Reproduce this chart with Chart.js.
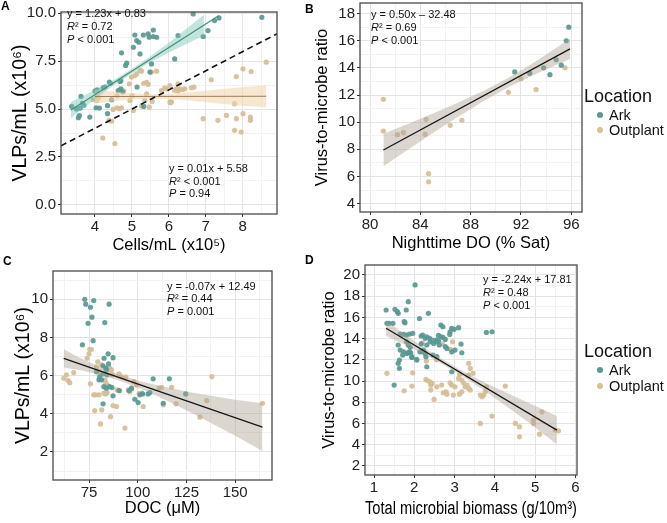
<!DOCTYPE html>
<html>
<head>
<meta charset="utf-8">
<script src="https://cdn.jsdelivr.net/npm/chart.js@4.4.1/dist/chart.umd.min.js"></script>
<style>
  body { margin: 0; background: #fff; font-family: "Liberation Sans", Arial, sans-serif; }
  #page { position: relative; width: 667px; height: 523px; overflow: hidden; }
  .pane { position: absolute; }
  .tag { position: absolute; font-weight: bold; font-size: 12px; line-height: 12px; color: #000; }
  .eq { position: absolute; font-size: 11px; line-height: 13px; color: #111; white-space: nowrap; }
  .lgt { position: absolute; font-size: 18px; line-height: 20px; color: #111; }
  .lgi { position: absolute; font-size: 14.5px; line-height: 16px; color: #111; }
  .dot { position: absolute; width: 6px; height: 6px; border-radius: 50%; }
</style>
</head>
<body>
<div id="page">
  <div class="pane" style="left:0;top:0"><canvas id="cA" width="300" height="258"></canvas></div>
  <div class="pane" style="left:300px;top:0"><canvas id="cB" width="367" height="258"></canvas></div>
  <div class="pane" style="left:0;top:258px"><canvas id="cC" width="300" height="265"></canvas></div>
  <div class="pane" style="left:300px;top:258px"><canvas id="cD" width="367" height="265"></canvas></div>

  <div class="tag" style="left:1px;top:0px">A</div>
  <div class="tag" style="left:305px;top:3px">B</div>
  <div class="tag" style="left:3px;top:255px">C</div>
  <div class="tag" style="left:305px;top:254px">D</div>

  <div class="eq" style="left:67px;top:7px">y = 1.23x + 0.83<br><i>R</i>² = 0.72<br><i>P</i> &lt; 0.001</div>
  <div class="eq" style="left:169px;top:162px;line-height:12.7px">y = 0.01x + 5.58<br><i>R</i>² &lt; 0.001<br><i>P</i> = 0.94</div>
  <div class="eq" style="left:371px;top:7.5px">y = 0.50x – 32.48<br><i>R</i>² = 0.69<br><i>P</i> &lt; 0.001</div>
  <div class="eq" style="left:167px;top:279.5px;line-height:12.8px">y = -0.07x + 12.49<br><i>R</i>² = 0.44<br><i>P</i> = 0.001</div>
  <div class="eq" style="left:483px;top:273px">y = -2.24x + 17.81<br><i>R</i>² = 0.48<br><i>P</i> &lt; 0.001</div>

  <div class="lgt" style="left:584px;top:86px">Location</div>
  <div class="dot" style="left:597px;top:112px;background:rgb(88,152,146)"></div>
  <div class="lgi" style="left:609px;top:107px">Ark</div>
  <div class="dot" style="left:597px;top:127px;background:rgb(214,189,150)"></div>
  <div class="lgi" style="left:609px;top:122px">Outplant</div>

  <div class="lgt" style="left:584px;top:341px">Location</div>
  <div class="dot" style="left:597px;top:367px;background:rgb(88,152,146)"></div>
  <div class="lgi" style="left:609px;top:362px">Ark</div>
  <div class="dot" style="left:597px;top:383px;background:rgb(214,189,150)"></div>
  <div class="lgi" style="left:609px;top:378px">Outplant</div>
</div>

<script>
// ---- Panel A : VLPs vs cells ----
const aArkX = [3.37,3.5,3.55,3.58,3.6,3.62,3.66,3.7,3.86,4.0,4.03,4.06,4.12,4.22,4.27,4.34,4.34,4.39,4.42,4.45,4.63,4.68,4.7,4.7,4.72,4.75,4.83,4.86,5.04,5.08,5.13,5.14,5.19,5.22,5.31,5.32,5.44,5.47,5.49,5.53,5.58,5.58,5.67,6.16,6.25,6.66,6.93,7.06,7.24,7.36,8.52];
const aArkY = [5.14,5.0,4.55,4.66,5.05,5.66,5.3,5.2,4.58,5.94,5.07,6.01,5.05,6.11,6.15,4.76,5.18,6.41,6.35,5.49,5.97,6.44,6.49,6.06,7.94,5.9,7.28,7.4,8.23,8.87,8.58,6.15,8.49,7.88,8.87,5.14,8.93,8.75,6.93,7.36,8.79,9.13,8.75,7.62,8.84,9.97,8.79,9.1,9.62,9.76,9.79];
const aOutX = [3.95,4.05,4.1,4.21,4.38,4.45,4.49,4.54,4.59,4.6,4.66,4.72,4.78,4.93,4.95,4.99,5.0,5.04,5.08,5.13,5.22,5.26,5.26,5.32,5.35,5.4,5.4,5.44,5.47,5.53,5.55,5.67,5.8,5.89,5.95,6.03,6.03,6.05,6.07,6.16,6.2,6.25,6.25,6.3,6.37,6.43,6.61,6.68,6.93,7.15,7.33,7.56,7.78,7.78,7.83,7.83,7.96,8.01,8.01,8.21,8.21,8.23,8.64];
const aOutY = [5.5,5.45,5.6,3.49,4.41,4.37,4.98,3.2,5.07,5.7,5.02,5.07,5.95,6.32,5.45,6.67,5.7,4.93,6.75,6.84,7.02,6.98,5.16,6.35,5.45,5.8,6.4,6.29,5.1,6.93,5.4,6.98,5.97,6.11,6.06,5.36,6.23,5.33,5.38,5.97,6.06,5.94,6.32,6.06,6.01,6.06,6.11,6.15,4.5,6.53,4.41,4.67,5.28,3.89,6.7,4.5,3.8,7.1,4.76,4.58,4.41,6.96,7.45];
const aArkFitX = [3.35, 7.35];
const aArkFitY = [4.95, 9.87];
const aArkBandX = [3.35, 4.0, 4.5, 5.0, 5.5, 6.0, 6.5, 6.95];
const aArkBandHi = [5.37, 5.99, 6.51, 7.10, 7.76, 8.47, 9.23, 9.93];
const aArkBandLo = [4.53, 5.51, 6.23, 6.86, 7.44, 7.95, 8.43, 8.83];
const aOutFitX = [4.0, 8.64];
const aOutFitY = [5.66, 5.67];
const aOutBandX = [4.0, 4.5, 5.0, 5.5, 6.0, 6.5, 7.0, 7.5, 8.0, 8.64];
const aOutBandHi = [6.04, 5.91, 5.82, 5.78, 5.79, 5.86, 5.96, 6.06, 6.14, 6.24];
const aOutBandLo = [5.28, 5.41, 5.5, 5.54, 5.53, 5.46, 5.36, 5.26, 5.18, 5.08];
const aRefX = [3.08, 8.93];
const aRefY = [3.08, 8.93];
const aXMajor = [4, 5, 6, 7, 8], aXMinor = [3.5, 4.5, 5.5, 6.5, 7.5, 8.5];
const aYMajor = [0, 2.5, 5, 7.5, 10], aYMinor = [1.25, 3.75, 6.25, 8.75];

// ---- Panel B : VMR vs nighttime DO ----
const bOutX = [81.06,81.06,82.18,82.65,84.38,84.46,84.65,84.65,86.37,87.3,91.0,92.0,93.2,95.5];
const bOutY = [11.68,9.35,9.08,9.23,9.1,10.21,6.21,5.6,9.77,10.14,12.2,13.2,12.4,14.0];
const bArkX = [91.5,92.7,93.8,94.3,94.8,95.2,95.6,95.8];
const bArkY = [13.7,13.6,14.0,13.5,14.6,14.2,16.0,17.0];
const bFitX = [81.06, 95.9];
const bFitY = [7.95, 15.4];
const bBandX = [81.06, 83, 85, 87, 89, 91, 93, 95.9];
const bBandHi = [9.15, 9.87, 10.64, 11.44, 12.3, 13.27, 14.37, 16.15];
const bBandLo = [6.75, 7.97, 9.2, 10.4, 11.54, 12.57, 13.47, 14.65];
const bXMajor = [80, 84, 88, 92, 96], bXMinor = [82, 86, 90, 94];
const bYMajor = [4, 6, 8, 10, 12, 14, 16, 18], bYMinor = [5, 7, 9, 11, 13, 15, 17];

// ---- Panel C : VLPs vs DOC ----
const cArkX = [71.6,72.8,73.3,74.5,75.7,76.5,77.1,77.4,78.8,80.1,80.5,81.4,82.2,82.2,82.2,82.6,82.7,83.1,83.6,83.9,83.9,84.3,84.8,85.0,85.3,85.6,86.8,87.3,87.3,90.4,95.6,96.8,98.5,100.2,101.1,102.5,105.3,106.2,107.9,113.1,116.2,124.6];
const cArkY = [7.61,10.0,9.74,8.74,9.58,9.06,7.83,9.93,6.2,5.78,5.95,5.78,6.51,6.09,4.52,5.42,6.91,8.78,6.39,6.3,5.34,6.04,7.14,6.61,9.74,5.42,5.37,6.94,4.94,5.22,5.22,5.34,4.76,4.59,4.99,5.04,5.04,5.11,5.83,4.55,5.83,5.04];
const cOutX = [62.0,63.4,64.2,65.1,67.1,74.0,75.0,75.4,75.7,76.2,77.4,77.9,78.4,78.8,79.5,80.1,80.5,80.9,81.4,81.5,82.6,83.1,83.6,83.6,84.3,84.3,85.6,86.0,86.5,87.0,87.3,89.1,89.4,90.4,90.8,91.7,93.4,93.9,95.1,95.9,96.8,98.0,99.4,100.7,102.0,102.8,111.0,112.2,113.1,117.4,119.6,131.9,135.4,138.0,164.0];
const cOutY = [5.86,6.04,5.74,5.63,6.16,6.91,7.14,7.38,5.57,7.38,4.99,4.17,4.99,6.46,6.72,4.99,6.21,3.47,6.56,4.2,5.08,5.78,5.04,5.62,5.11,5.51,6.39,3.85,6.3,6.04,4.43,4.38,5.25,6.09,5.2,5.95,3.25,5.92,5.25,5.16,5.29,5.69,5.51,5.07,5.08,4.38,5.34,5.39,4.47,5.39,4.52,3.82,4.69,5.95,4.55];
const cFitX = [62, 164];
const cFitY = [6.9, 3.3];
const cBandX = [62, 70, 80, 90, 100, 110, 120, 130, 140, 150, 164];
const cBandHi = [7.38, 6.95, 6.46, 6.06, 5.74, 5.49, 5.27, 5.08, 4.91, 4.73, 4.55];
const cBandLo = [6.42, 6.29, 6.06, 5.76, 5.38, 4.93, 4.43, 3.92, 3.39, 2.85, 2.05];
const cXMajor = [75, 100, 125, 150], cXMinor = [62.5, 87.5, 112.5, 137.5, 162.5];
const cYMajor = [2, 4, 6, 8, 10], cYMinor = [1, 3, 5, 7, 9, 11];

// ---- Panel D : VMR vs total microbial biomass ----
const dArkX = [1.30,1.32,1.37,1.47,1.5,1.52,1.58,1.6,1.6,1.6,1.63,1.63,1.65,1.65,1.71,1.73,1.73,1.75,1.77,1.8,1.8,1.81,1.81,1.85,1.85,1.85,1.88,1.88,1.9,1.91,1.94,1.94,1.96,2.02,2.06,2.06,2.13,2.14,2.17,2.17,2.19,2.21,2.23,2.23,2.27,2.27,2.29,2.31,2.31,2.31,2.35,2.38,2.39,2.44,2.46,2.48,2.54,2.56,2.56,2.6,2.6,2.62,2.66,2.66,2.71,2.71,2.77,2.77,2.81,2.88,2.89,2.93,2.93,2.93,2.99,3.01,3.1,3.16,3.18,3.79,3.93];
const dArkY = [16.7,15.44,15.44,15.44,9.62,16.76,16.54,16.39,13.4,11.67,11.98,11.2,14.43,12.92,12.45,14.4,12.76,15.6,15.5,16.7,14.34,12.61,13.7,17.48,13.4,12.67,12.76,14.43,13.18,12.67,12.23,12.3,14.5,19.06,11.98,12.05,15.9,12.76,14.25,13.5,12.76,14.34,12.92,12.8,12.61,14.03,12.3,14.18,13.4,11.35,16.39,14.03,13.7,13.87,12.45,13.55,13.87,13.7,12.3,13.8,14.3,13.4,15.28,14.18,15.12,14.12,13.93,13.24,13.08,14.4,14.65,14.97,12.76,10.88,14.88,12.92,15.03,13.49,12.67,14.59,14.65];
const dOutX = [1.32,1.75,1.94,1.96,2.2,2.29,2.3,2.33,2.39,2.41,2.41,2.44,2.49,2.55,2.56,2.68,2.7,2.72,2.79,2.81,2.89,2.9,2.93,2.95,2.97,3.01,3.1,3.12,3.12,3.18,3.18,3.22,3.26,3.31,3.35,3.35,3.35,3.39,3.39,3.46,3.64,3.64,3.68,3.72,3.76,3.79,3.93,4.26,4.51,4.61,4.61,4.96,4.96,5.11,5.17,5.5,5.58];
const dOutY = [10.73,9.09,9.53,10.78,13.6,10.16,11.9,10.03,9.94,9.62,9.15,9.79,8.27,12.0,9.46,9.62,13.5,8.9,8.99,8.75,9.84,13.0,9.62,13.7,8.68,9.46,10.25,8.77,10.57,8.99,10.1,9.84,9.46,9.62,9.31,11.67,10.57,9.15,11.2,10.73,8.68,6.01,8.52,8.68,8.99,9.46,6.7,9.53,6.01,5.69,4.75,6.32,6.01,5.0,7.1,5.38,5.31];
const dFitX = [1.3, 5.54];
const dFitY = [14.97, 5.38];
const dBandX = [1.3, 1.75, 2.25, 2.75, 3.25, 3.75, 4.25, 4.75, 5.54];
const dBandHi = [15.69, 14.43, 13.13, 11.93, 10.84, 9.87, 8.97, 8.11, 6.72];
const dBandLo = [14.25, 13.47, 12.53, 11.49, 10.34, 9.07, 7.73, 6.35, 4.04];
const dXMajor = [1, 2, 3, 4, 5, 6], dXMinor = [1.5, 2.5, 3.5, 4.5, 5.5];
const dYMajor = [2, 4, 6, 8, 10, 12, 14, 16, 18, 20], dYMinor = [3, 5, 7, 9, 11, 13, 15, 17, 19];

const FONT = '"Liberation Sans", Arial, sans-serif';
const ARK = 'rgba(88,152,146,0.92)';
const OUT = 'rgba(214,189,150,0.92)';
const ARK_LINE = '#3f8b7d', OUT_LINE = '#9e7d55', FIT_LINE = '#151515';
const ARK_BAND = 'rgba(120,198,178,0.45)', OUT_BAND = 'rgba(240,212,172,0.55)', GREY_BAND = 'rgba(172,158,144,0.42)';

function xy(xs, ys) { return xs.map((x, i) => ({ x: x, y: ys[i] })); }

function dots(xs, ys, color) {
  return { type: 'scatter', data: xy(xs, ys), backgroundColor: color, borderWidth: 0, pointRadius: 2.6, pointHoverRadius: 2.6 };
}
function line(xs, ys, color, width, dash) {
  return { type: 'line', data: xy(xs, ys), borderColor: color, borderWidth: width, borderDash: dash || [], pointRadius: 0, fill: false, tension: 0 };
}
// upper edge filled down to the lower edge that follows it
function band(xs, hi, lo, color) {
  return [
    { type: 'line', data: xy(xs, hi), borderColor: 'transparent', borderWidth: 0, pointRadius: 0, backgroundColor: color, fill: '+1', tension: 0 },
    { type: 'line', data: xy(xs, lo), borderColor: 'transparent', borderWidth: 0, pointRadius: 0, fill: false, tension: 0 }
  ];
}

function scale(o) {
  const all = o.major.concat(o.minor);
  const isMajor = c => c.tick && o.major.includes(c.tick.value);
  return {
    type: 'linear', min: o.min, max: o.max, bounds: 'data',
    afterBuildTicks: s => { s.ticks = all.map(v => ({ value: v })); },
    afterFit: s => {
      if (o.horiz) s.height = o.size; else s.width = o.size;
      s.paddingTop = 0; s.paddingBottom = 0; s.paddingLeft = 0; s.paddingRight = 0;
    },
    ticks: {
      autoSkip: false, maxRotation: 0, padding: o.horiz ? 1 : 2, color: '#222',
      font: { family: FONT, size: 15 },
      callback: v => o.major.includes(v) ? (o.fmt ? o.fmt(v) : String(v)) : ''
    },
    grid: {
      color: c => isMajor(c) ? '#e4e4e4' : '#f2f2f2', lineWidth: 1,
      tickLength: 3, tickWidth: 1,
      tickColor: c => isMajor(c) ? '#333' : 'rgba(0,0,0,0)'
    },
    border: { display: false },
    title: {
      display: true, text: o.title, color: '#000',
      font: { family: FONT, size: o.tsize || 16.5 },
      padding: o.horiz ? { top: 0, bottom: o.tpad } : { top: o.tpad, bottom: 0 }
    }
  };
}

const frame = {
  id: 'frame',
  afterDraw(chart) {
    const { ctx, chartArea: a } = chart;
    ctx.save();
    ctx.strokeStyle = '#4a4a4a';
    ctx.lineWidth = 1.3;
    ctx.strokeRect(a.left, a.top, a.right - a.left, a.bottom - a.top);
    ctx.restore();
  }
};

function panel(id, datasets, x, y, pad) {
  return new Chart(document.getElementById(id), {
    type: 'scatter',
    data: { datasets: datasets },
    options: {
      responsive: false, animation: false, events: [],
      layout: { padding: pad },
      plugins: { legend: { display: false }, tooltip: { enabled: false } },
      scales: { x: x, y: y }
    },
    plugins: [frame]
  });
}

panel('cA', [
  line(aRefX, aRefY, '#111', 1.6, [6, 4]),
  line(aArkFitX, aArkFitY, ARK_LINE, 1.1),
  line(aOutFitX, aOutFitY, OUT_LINE, 1.1),
  ...band(aArkBandX, aArkBandHi, aArkBandLo, ARK_BAND),
  ...band(aOutBandX, aOutBandHi, aOutBandLo, OUT_BAND),
  dots(aArkX, aArkY, ARK),
  dots(aOutX, aOutY, OUT)
],
  scale({ horiz: true, min: 3.08, max: 8.93, major: aXMajor, minor: aXMinor, title: 'Cells/mL (x10⁵)', size: 44, tpad: 3 }),
  scale({ min: -0.48, max: 10.07, major: aYMajor, minor: aYMinor, fmt: v => v.toFixed(1), title: 'VLPs/mL (x10⁶)', tsize: 19.5, size: 61, tpad: 9 }),
  { left: 0, top: 12, right: 23, bottom: 0 });

panel('cB', [
  line(bFitX, bFitY, FIT_LINE, 1.2),
  ...band(bBandX, bBandHi, bBandLo, GREY_BAND),
  dots(bArkX, bArkY, ARK),
  dots(bOutX, bOutY, OUT)
],
  scale({ horiz: true, min: 79.2, max: 96.85, major: bXMajor, minor: bXMinor, title: 'Nighttime DO (% Sat)', size: 46, tpad: 5 }),
  scale({ min: 3.38, max: 18.78, major: bYMajor, minor: bYMinor, title: 'Virus-to-microbe ratio', size: 60, tpad: 12.5 }),
  { left: 0, top: 3, right: 85, bottom: 0 });

panel('cC', [
  line(cFitX, cFitY, FIT_LINE, 1.2),
  ...band(cBandX, cBandHi, cBandLo, GREY_BAND),
  dots(cArkX, cArkY, ARK),
  dots(cOutX, cOutY, OUT)
],
  scale({ horiz: true, min: 56.5, max: 168.9, major: cXMajor, minor: cXMinor, title: 'DOC (μM)', size: 43, tpad: 5 }),
  scale({ min: 0.53, max: 11.48, major: cYMajor, minor: cYMinor, title: 'VLPs/mL (x10⁶)', tsize: 19.5, size: 53, tpad: 12 }),
  { left: 0, top: 13, right: 28, bottom: 0 });

panel('cD', [
  line(dFitX, dFitY, FIT_LINE, 1.2),
  ...band(dBandX, dBandHi, dBandLo, GREY_BAND),
  dots(dArkX, dArkY, ARK),
  dots(dOutX, dOutY, OUT)
],
  scale({ horiz: true, min: 0.776, max: 6.04, major: dXMajor, minor: dXMinor, title: 'Total microbial biomass (g/10m³)', tsize: 18, size: 48, tpad: 3 }),
  scale({ min: 1.15, max: 20.94, major: dYMajor, minor: dYMinor, title: 'Virus-to-microbe ratio', size: 65, tpad: 20 }),
  { left: 0, top: 7, right: 90, bottom: 0 });
</script>
</body>
</html>
